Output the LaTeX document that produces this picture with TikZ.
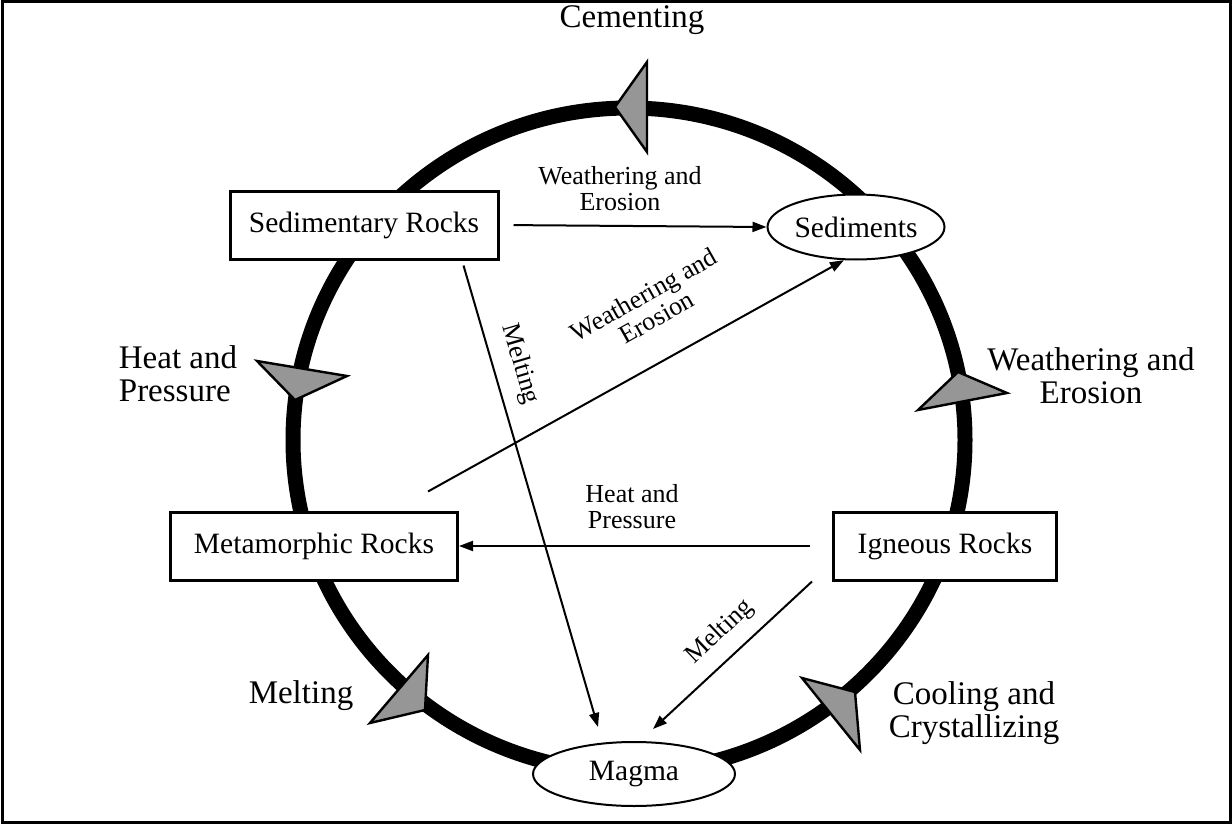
\documentclass[tikz,border=0pt]{standalone}
\usepackage{fontspec}
\setmainfont{Liberation Serif}
\usetikzlibrary{shapes.geometric,arrows.meta}
\definecolor{headgray}{RGB}{150,150,150}
\tikzset{
  rock/.style={draw, line width=1.5pt, fill=white, minimum height=34pt, inner sep=0pt, font=\fontsize{14.75}{17}\selectfont},
  pile/.style={draw, ellipse, line width=1pt, fill=white, inner sep=0pt, font=\fontsize{14.75}{17}\selectfont},
  flow/.style={line width=1pt, -{Triangle[length=7pt,width=5pt]}},
  big/.style={font=\fontsize{16.5}{16.5}\selectfont, align=center},
  small/.style={font=\fontsize{13}{13}\selectfont, align=center},
  head/.style={draw, line width=1.2pt, fill=headgray, line join=miter}
}
\begin{document}
\begin{tikzpicture}[x=0.5pt,y=-0.5pt]
\useasboundingbox (0,0) rectangle (1232,824);
\draw[line width=1.5pt] (2,2) rectangle (1230,822);
% the cycle
\draw[line width=7.5pt] (629,440) ellipse [x radius=336, y radius=332];
\draw[head] (647,62) -- (615,107) -- (647,152) -- cycle;
\draw[head] (257,361) -- (295,400) -- (347,376) -- cycle;
\draw[head] (918,410) -- (958,372) -- (1007,393) -- cycle;
\draw[head] (370,723) -- (425,710) -- (428,655) -- cycle;
\draw[head] (802,678) -- (855,692) -- (860,750) -- cycle;
% rocks
\node[rock, minimum width=134pt] (sed) at (364,225) {Sedimentary Rocks};
\node[pile, minimum width=88.5pt, minimum height=32.5pt] (sedi) at (856,227) {Sediments};
\node[rock, minimum width=143.5pt] (meta) at (314,546) {Metamorphic Rocks};
\node[rock, minimum width=111.5pt] (ign) at (945,546) {Igneous Rocks};
\node[pile, minimum width=101pt, minimum height=32pt] (mag) at (634,774) {Magma};
% inner arrows
\draw[flow, shorten <=7pt] (sed.east) -- (sedi.west);
\draw[flow, shorten <=11pt] (ign.west) -- (meta.east);
\draw[flow] ([xshift=-15.5pt,yshift=9.5pt]meta.north east) -- (sedi.250);
\draw[flow] ([xshift=-18pt,yshift=-2.5pt]sed.south east) -- ([xshift=-18pt,yshift=7pt]mag.north);
\draw[flow] ([xshift=-10pt]ign.south west) -- ([xshift=9.5pt,yshift=6pt]mag.north);
% outer labels
\node[big] (cem) at (632,20) {Cementing};
\node[big, align=left] (hp) at (178,374) {Heat and\\Pressure};
\node[big] (we) at (1091,376) {Weathering and\\Erosion};
\node[big] (mel) at (301,696) {Melting};
\node[big] (cc) at (974,713) {Cooling and\\Crystallizing};
% inner labels
\node[small] (lbla) at (620,189) {Weathering and\\Erosion};
\node[small] (lblb) at (632,507) {Heat and\\Pressure};
\node[small, rotate=29.4] (lblc) at (650,306) {Weathering and\\Erosion};
\node[small, rotate=-73.7] (lbld) at (520,364) {Melting};
\node[small, rotate=43.4] (lble) at (720,632) {Melting};
\end{tikzpicture}
\end{document}
